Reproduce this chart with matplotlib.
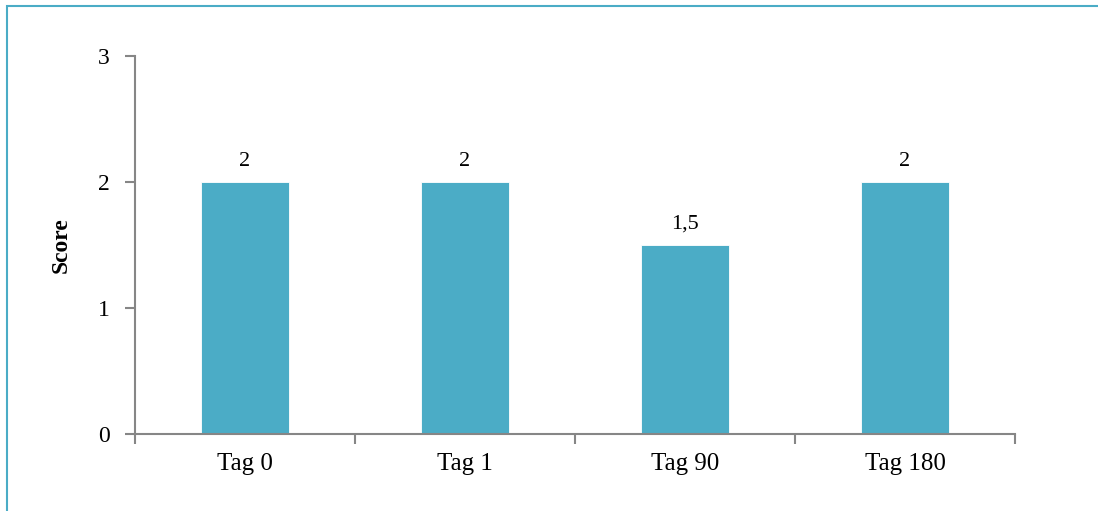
import matplotlib.pyplot as plt
from matplotlib.patches import Rectangle

categories = ['Tag 0', 'Tag 1', 'Tag 90', 'Tag 180']
scores = [2, 2, 1.5, 2]
y_ticks = [0, 1, 2, 3]

bar_color = '#4BACC6'
axis_color = '#868686'
plt.rcParams['font.family'] = ['Liberation Serif', 'DejaVu Serif']

fig = plt.figure(figsize=(10.98, 5.11), dpi=100)
ax = fig.add_axes([0.1230, 0.1507, 0.8014, 0.7397])

# outer frame of the chart area (open on the right and bottom)
fig.patches.append(Rectangle((7 / 1098, -0.05), 1.2, 1 - 6 / 511 + 0.05,
                             transform=fig.transFigure, fill=False,
                             edgecolor=bar_color, linewidth=1.5))

x = range(len(categories))
bars = ax.bar(x, scores, width=0.4, color=bar_color, edgecolor='white', linewidth=0.6)

for xi, v in zip(x, scores):
    label = ('%g' % v).replace('.', ',')
    ax.text(xi, v + 0.09, label, ha='center', va='bottom', fontsize=16)

ax.set_xlim(-0.5, len(categories) - 0.5)
ax.set_ylim(0, 3)
ax.set_yticks(y_ticks)
ax.set_xticks(list(x))
ax.set_xticklabels(categories, fontsize=18)
ax.set_xticks([i - 0.5 for i in range(len(categories) + 1)], minor=True)
ax.tick_params(axis='x', which='major', length=0, pad=14)
ax.tick_params(axis='x', which='minor', length=7, direction='out', color=axis_color, width=1.5)
ax.tick_params(axis='y', length=7, direction='out', color=axis_color, width=1.5, labelsize=17, pad=11)

for side in ['top', 'right']:
    ax.spines[side].set_visible(False)
for side in ['left', 'bottom']:
    ax.spines[side].set_color(axis_color)
    ax.spines[side].set_linewidth(1.5)

ax.set_ylabel('Score', fontsize=17, fontweight='bold', labelpad=19)

fig.savefig('out.png', dpi=100)
